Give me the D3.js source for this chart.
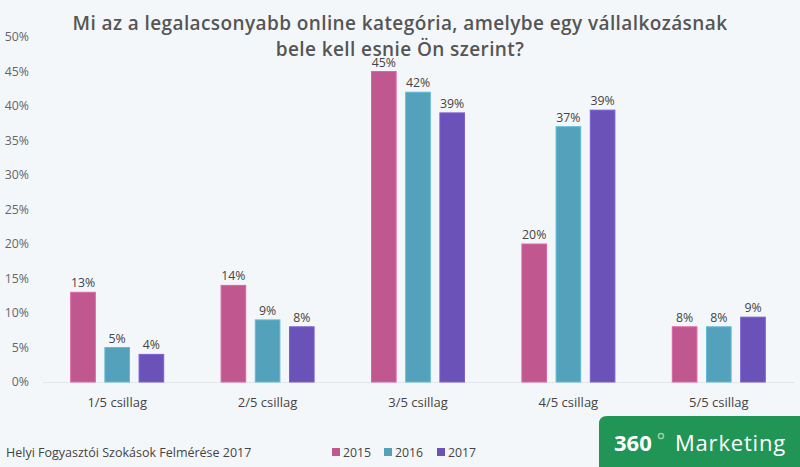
<!DOCTYPE html>
<html>
<head>
<meta charset="utf-8">
<script src="https://cdn.jsdelivr.net/npm/d3@7"></script>
<style>
html,body{margin:0;padding:0;background:#f4f7fa;}
svg{display:block;font-family:"Open Sans",sans-serif;}
</style>
</head>
<body>
<svg id="chart" width="800" height="467"></svg>
<script>
const categories = ["1/5 csillag","2/5 csillag","3/5 csillag","4/5 csillag","5/5 csillag"];
const seriesNames = ["2015","2016","2017"];
const values2015 = [13, 14, 45, 20, 8];
const values2016 = [5, 9, 42, 37, 8];
const values2017 = [4, 8, 39, 39.4, 9.4];
const yTicks = [0,5,10,15,20,25,30,35,40,45,50];
const colors = ["#c0578e","#53a1bb","#6a52b8"];
const titleLines = ["Mi az a legalacsonyabb online kategória, amelybe egy vállalkozásnak","bele kell esnie Ön szerint?"];
const sourceText = "Helyi Fogyasztói Szokások Felmérése 2017";

const series = [values2015, values2016, values2017];
const svg = d3.select("#chart");
const W = 800, H = 467;
svg.append("rect").attr("width",W).attr("height",H).attr("fill","#f4f7fa");

const x0 = d3.scaleBand().domain(categories).range([42, 794]).paddingInner(0).paddingOuter(0);
const y = d3.scaleLinear().domain([0,50]).range([382, 37]);

// y axis labels
svg.append("g").selectAll("text").data(yTicks).join("text")
  .attr("x", 29).attr("y", d => y(d)).attr("dy","0.35em")
  .attr("text-anchor","end").attr("font-size",12.3).attr("fill","#666")
  .text(d => d + "%");

// baseline
svg.append("line").attr("x1",43).attr("x2",795).attr("y1",y(0)+0.5).attr("y2",y(0)+0.5)
  .attr("stroke","#e3e6ea").attr("stroke-width",1);

const groupW = 93;
const bx = d3.scaleBand().domain(seriesNames).range([0, groupW]).paddingInner(0.28);

const g = svg.append("g");
categories.forEach((c, i) => {
  const cx = x0(c) + x0.bandwidth()/2;
  const left = cx - groupW/2;
  seriesNames.forEach((s, j) => {
    const v = series[j][i];
    const xx = left + bx(s);
    g.append("rect").attr("x", xx).attr("y", y(v)).attr("width", bx.bandwidth())
      .attr("height", y(0) - y(v)).attr("fill", colors[j])
      .attr("stroke", d3.color(colors[j]).brighter(0.4)).attr("stroke-width", 1);
    g.append("text").attr("x", xx + bx.bandwidth()/2).attr("y", y(v) - 5)
      .attr("text-anchor","middle").attr("font-size",12.3).attr("fill","#444")
      .text(Math.round(v) + "%");
  });
  g.append("text").attr("x", cx).attr("y", 407).attr("text-anchor","middle")
    .attr("font-size",13).attr("fill","#444").text(c);
});

// title
svg.append("g").selectAll("text").data(titleLines).join("text")
  .attr("x", 400).attr("y", (d,i) => 30 + i*26).attr("text-anchor","middle")
  .attr("font-size",19).attr("letter-spacing",0.4).attr("font-weight",600).attr("fill","#555").text(d => d);

// source
svg.append("text").attr("x",6).attr("y",457).attr("font-size",12.5).attr("fill","#444").text(sourceText);

// legend
const legX = [332, 384, 437];
seriesNames.forEach((s, j) => {
  svg.append("rect").attr("x", legX[j]).attr("y", 448).attr("width", 8).attr("height", 8).attr("fill", colors[j]);
  svg.append("text").attr("x", legX[j] + 11).attr("y", 457).attr("font-size",12.3).attr("fill","#444").text(s);
});

// logo
svg.append("path").attr("d","M599,467 L599,424 Q599,416 607,416 L800,416 L800,467 Z").attr("fill","#219555");
const logo = svg.append("text").attr("x", 614).attr("y", 451).attr("font-size",22).attr("fill","#fff");
logo.append("tspan").attr("font-weight",700).text("360");
svg.append("circle").attr("cx", 661).attr("cy", 436).attr("r", 2.6).attr("fill","none").attr("stroke","#8fd3a9").attr("stroke-width",1.5);
svg.append("text").attr("x", 675).attr("y", 451).attr("font-size",22).attr("letter-spacing",0.8).attr("fill","#fff").text("Marketing");
</script>
</body>
</html>
